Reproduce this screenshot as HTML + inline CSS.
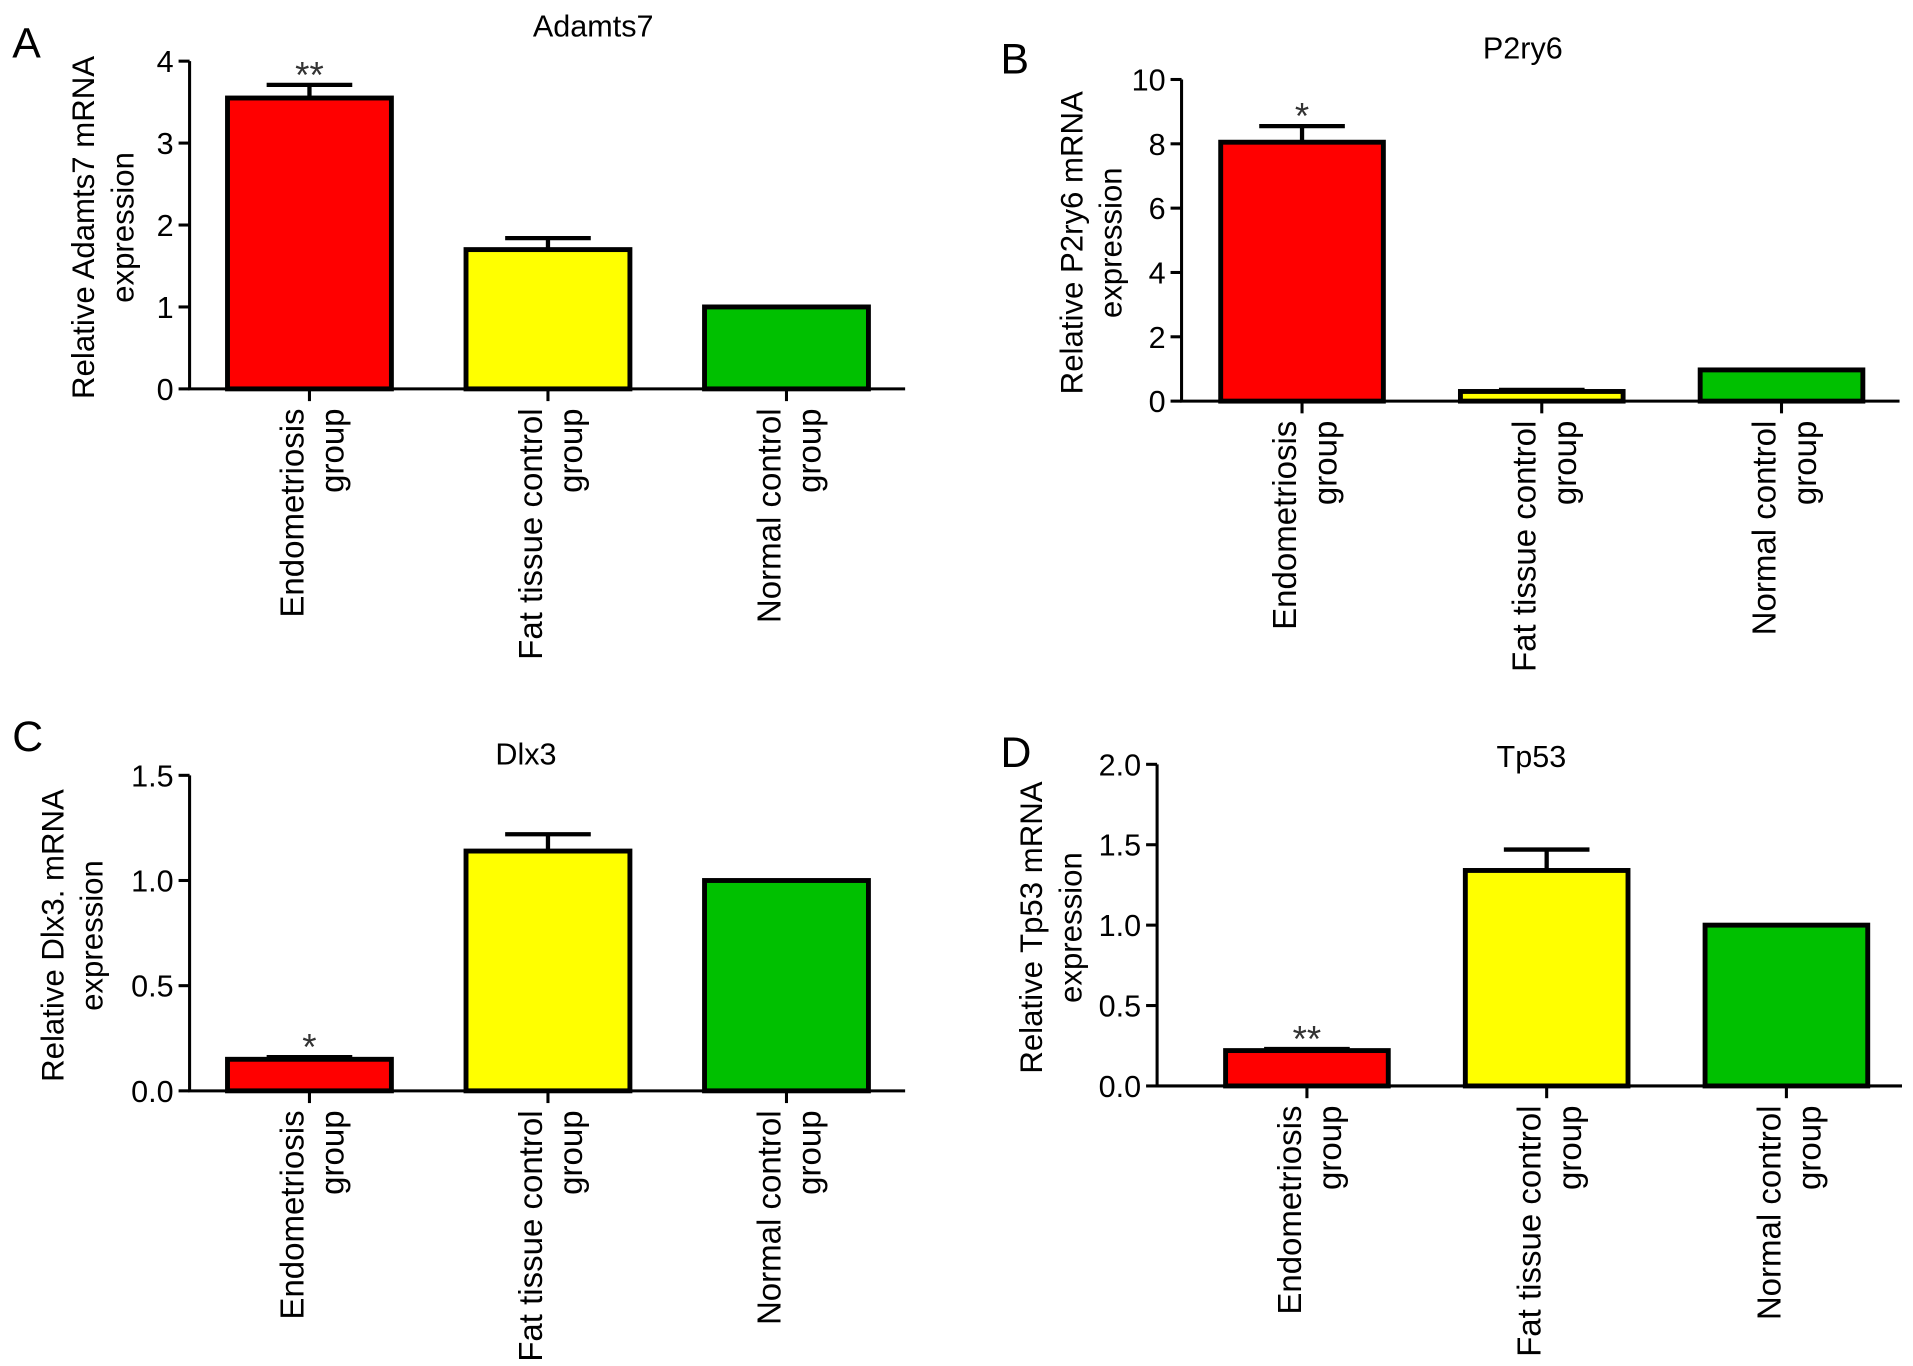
<!DOCTYPE html>
<html><head><meta charset="utf-8"><style>
html,body{margin:0;padding:0;background:#fff;}
svg{display:block;font-family:"Liberation Sans",Arial,sans-serif;}
</style></head><body>
<svg id="fig" width="1913" height="1366" viewBox="0 0 1564 1117" preserveAspectRatio="none" xmlns="http://www.w3.org/2000/svg"></svg>
<script>
const categories = ["Endometriosis|group", "Fat tissue control|group", "Normal control|group"];
const colors = ["#ff0000", "#ffff00", "#00c000"];
const adamts7Values = [3.55, 1.70, 1.00];
const adamts7Errors = [0.16, 0.14, 0];
const adamts7Ticks = ["0", "1", "2", "3", "4"];
const p2ry6Values = [8.05, 0.30, 0.97];
const p2ry6Errors = [0.5, 0.05, 0];
const p2ry6Ticks = ["0", "2", "4", "6", "8", "10"];
const dlx3Values = [0.15, 1.14, 1.00];
const dlx3Errors = [0.01, 0.08, 0];
const dlx3Ticks = ["0.0", "0.5", "1.0", "1.5"];
const tp53Values = [0.22, 1.34, 1.00];
const tp53Errors = [0.01, 0.13, 0];
const tp53Ticks = ["0.0", "0.5", "1.0", "1.5", "2.0"];
const stars = [["**", "", ""], ["*", "", ""], ["*", "", ""], ["**", "", ""]];

const NS = "http://www.w3.org/2000/svg";
const svg = document.getElementById("fig");
function mk(tag, attrs, parent, text) {
  const e = document.createElementNS(NS, tag);
  for (const k in attrs) e.setAttribute(k, attrs[k]);
  if (text !== undefined) e.textContent = text;
  (parent || svg).appendChild(e);
  return e;
}

const panels = [
  {id:"a", letter:"A", lx:10, ly:47, title:"Adamts7", tx:485, ty:30, ax:155, top:50, zero:318, ymax:4, end:740, x0:186, step:195, bw:134, ylab:["Relative Adamts7 mRNA","expression"], ylx:77, vals:adamts7Values, errs:adamts7Errors, ticks:adamts7Ticks},
  {id:"b", letter:"B", lx:818, ly:60, title:"P2ry6", tx:1245, ty:48, ax:966, top:65, zero:328, ymax:10, end:1553, x0:998, step:196, bw:133, ylab:["Relative P2ry6 mRNA","expression"], ylx:885, vals:p2ry6Values, errs:p2ry6Errors, ticks:p2ry6Ticks},
  {id:"c", letter:"C", lx:10, ly:614, title:"Dlx3", tx:430, ty:625, ax:155, top:634, zero:892, ymax:1.5, end:740, x0:186, step:195, bw:134, ylab:["Relative Dlx3. mRNA","expression"], ylx:52, vals:dlx3Values, errs:dlx3Errors, ticks:dlx3Ticks},
  {id:"d", letter:"D", lx:818, ly:627, title:"Tp53", tx:1252, ty:627, ax:946, top:625, zero:888, ymax:2, end:1555, x0:1002, step:196, bw:133, ylab:["Relative Tp53 mRNA","expression"], ylx:852, vals:tp53Values, errs:tp53Errors, ticks:tp53Ticks}
];

panels.forEach((p, pi) => {
  const g = mk("g", {});
  
  
  const y = v => p.zero - (v / p.ymax) * (p.zero - p.top);
  const letter = mk("text", {x:p.lx, y:p.ly, "font-size":35}, g, p.letter);
  
  
  const t = mk("text", {x:p.tx, y:p.ty, "font-size":25, "text-anchor":"middle"}, g, p.title);
  
  
  const cy = (p.top + p.zero) / 2 + 2;
  p.ylab.forEach((l, i) => {
    const yl = mk("text", {transform:`translate(${p.ylx + i*32},${cy}) rotate(-90)`, "font-size":25.5, "text-anchor":"middle"}, g, l);
    
    
  });
  p.vals.forEach((v, i) => {
    const bx = p.x0 + i * p.step;
    const e = p.errs[i];
    if (e > 0) {
      const cx = bx + p.bw/2;
      const el = mk("path", {d:`M${cx},${y(v)} V${y(v+e)} M${cx-35},${y(v+e)} H${cx+35}`, stroke:"#000", "stroke-width":3.5, fill:"none"}, g);
      
      
    }
    const r = mk("rect", {x:bx, y:y(v), width:p.bw, height:p.zero - y(v), fill:colors[i], stroke:"#000", "stroke-width":4}, g);
    
    
    if (stars[pi][i]) {
      const s = mk("text", {x:bx + p.bw/2, y:y(v + e) + 2, "font-size":30, "text-anchor":"middle", fill:"#333"}, g, stars[pi][i]);
      
      
    }
    const tx = bx + p.bw/2;
    const tk = mk("line", {x1:tx, x2:tx, y1:p.zero, y2:p.zero + 10, stroke:"#000", "stroke-width":2.5}, g);
    
    
    categories[i].split("|").forEach((l, j) => {
      const cl = mk("text", {transform:`translate(${tx - 5 + j*33},${p.zero + 16}) rotate(-90)`, "font-size":27, "text-anchor":"end"}, g, l);
      
      
    });
  });
  const ax = mk("path", {d:`M${p.ax},${p.top} V${p.zero} H${p.end}`, stroke:"#000", "stroke-width":2.5, fill:"none"}, g);
  
  
  p.ticks.forEach(tl => {
    const v = parseFloat(tl);
    const ty = y(v);
    const tk = mk("line", {x1:p.ax - 9, x2:p.ax, y1:ty, y2:ty, stroke:"#000", "stroke-width":2.5}, g);
    
    
    const lb = mk("text", {x:p.ax - 13, y:ty + 9, "font-size":25, "text-anchor":"end"}, g, tl);
    
    
  });
});
</script>
</body></html>
